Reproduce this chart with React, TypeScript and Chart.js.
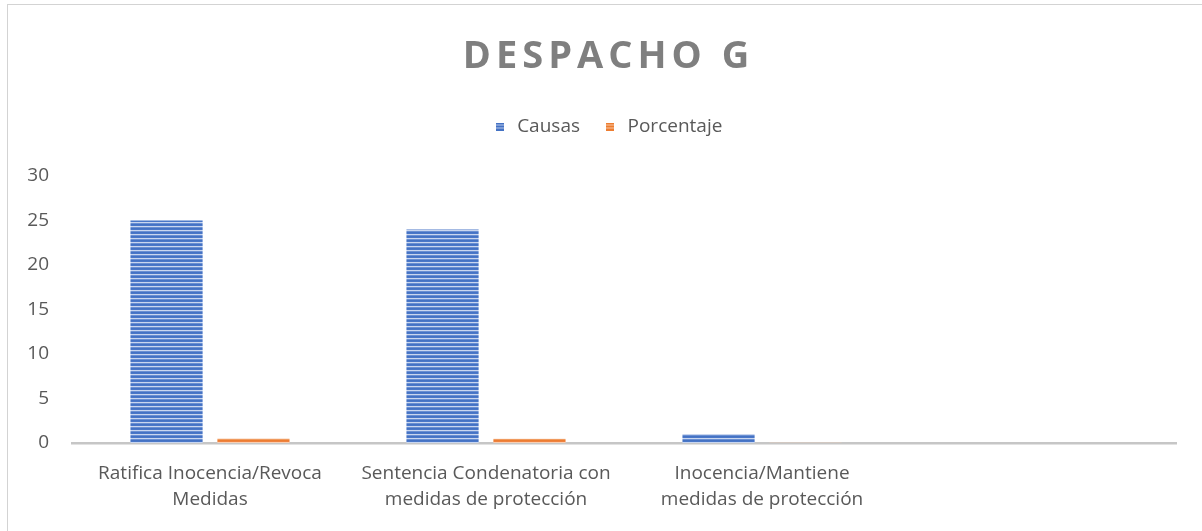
import React, { useEffect, useRef } from "react";
import { Chart, registerables } from "chart.js";

Chart.register(...registerables);

const TITLE = "DESPACHO G";
const seriesNames = ["Causas", "Porcentaje"];
const categories: (string | string[])[] = [
  ["Ratifica Inocencia/Revoca", "Medidas"],
  ["Sentencia Condenatoria con", "medidas de protección"],
  ["Inocencia/Mantiene", "medidas de protección"],
  "",
];
const causas = [25, 24, 1, null];
const porcentaje = [0.5, 0.48, 0.02, null];
const yMin = 0;
const yMax = 30;
const yStep = 5;

const FONT = '"Open Sans", "Liberation Sans", sans-serif';
const TEXT = "#595959";

function stripeCanvas(w: number, h: number, rows: string[]) {
  const c = document.createElement("canvas");
  c.width = w;
  c.height = h;
  const x = c.getContext("2d")!;
  for (let y = 0; y < h; y++) {
    x.fillStyle = rows[y % rows.length];
    x.fillRect(0, y, w, 1);
  }
  return c;
}

const BLUE_ROWS = ["#4472c4", "#4a77c8", "#c9d6ef", "#6a8fd2"];
const ORANGE_ROWS = ["#ed7d31", "#ee8240", "#f8cfb3", "#f09a5e"];

export default function App() {
  const ref = useRef<HTMLCanvasElement | null>(null);

  useEffect(() => {
    const canvas = ref.current!;
    const ctx = canvas.getContext("2d")!;
    const bluePat = ctx.createPattern(stripeCanvas(4, 4, BLUE_ROWS), "repeat")!;
    const orangePat = ctx.createPattern(stripeCanvas(4, 4, ORANGE_ROWS), "repeat")!;
    const legendImgs = [
      stripeCanvas(8, 8, ["#4472c4", "#4472c4", "#b8c9ea"]),
      stripeCanvas(8, 8, ["#ed7d31", "#ed7d31", "#f7c7a6"]),
    ];

    const titlePlugin = {
      id: "customTitle",
      afterLayout(chart: any) {
        const l = chart.legend;
        if (l) {
          l.left += 19;
          l.right += 19;
          l.top -= 30;
          l.bottom -= 30;
        }
      },
      afterDraw(chart: any) {
        const c = chart.ctx;
        c.save();
        c.font = `bold 38px ${FONT}`;
        c.fillStyle = "#7f7f7f";
        const sp = 5;
        (c as any).letterSpacing = `${sp}px`;
        c.textAlign = "center";
        c.textBaseline = "middle";
        c.fillText(TITLE, chart.width / 2 + sp / 2, 57);
        c.restore();
      },
    };

    const chart = new Chart(canvas, {
      type: "bar",
      data: {
        labels: categories,
        datasets: [
          {
            label: seriesNames[0],
            data: causas,
            backgroundColor: bluePat,
            borderWidth: 0,
          },
          {
            label: seriesNames[1],
            data: porcentaje,
            backgroundColor: orangePat,
            borderWidth: 0,
          },
        ],
      },
      options: {
        animation: false,
        responsive: false,
        maintainAspectRatio: false,
        datasets: {
          bar: {
            categoryPercentage: 0.63,
            barPercentage: 0.83,
          },
        },
        layout: {
          padding: { left: 0, right: 36, top: 70, bottom: 0 },
        },
        plugins: {
          title: { display: false },
          tooltip: { enabled: false },
          legend: {
            display: true,
            position: "top",
            labels: {
              color: TEXT,
              font: { family: FONT, size: 19 },
              usePointStyle: true,
              pointStyleWidth: 16,
              padding: 22,
              generateLabels(chart: any) {
                const items = Chart.defaults.plugins.legend.labels.generateLabels(chart);
                return items.map((it: any, i: number) => ({
                  ...it,
                  pointStyle: legendImgs[i],
                }));
              },
            },
          },
        },
        scales: {
          x: {
            grid: { display: false, drawTicks: false },
            border: { display: true, color: "#c6c6c6", width: 2.5 },
            ticks: {
              color: TEXT,
              font: { family: FONT, size: 19, lineHeight: 1.37 },
              maxRotation: 0,
              minRotation: 0,
              autoSkip: false,
              padding: 18,
            },
            afterFit(scale: any) {
              scale.height = 88;
            },
          },
          y: {
            min: yMin,
            max: yMax,
            grid: { display: false, drawTicks: false },
            border: { display: false },
            ticks: {
              stepSize: yStep,
              color: TEXT,
              font: { family: FONT, size: 19 },
              padding: 23,
            },
            afterFit(scale: any) {
              scale.width = 72;
              scale.paddingTop = 176;
            },
          },
        },
      },
      plugins: [titlePlugin],
    });
    return () => chart.destroy();
  }, []);

  return (
    <div
      style={{
        position: "fixed",
        left: 0,
        top: 0,
        width: 1202,
        height: 531,
        overflow: "hidden",
        background: "#ffffff",
      }}
    >
      <canvas
        ref={ref}
        width={1212}
        height={531}
        style={{ position: "absolute", left: 0, top: 0, width: 1212, height: 531 }}
      />
      <div
        style={{
          position: "absolute",
          left: 7,
          top: 4,
          width: 1220,
          height: 560,
          border: "1px solid #d3d3d3",
          pointerEvents: "none",
        }}
      />
    </div>
  );
}
